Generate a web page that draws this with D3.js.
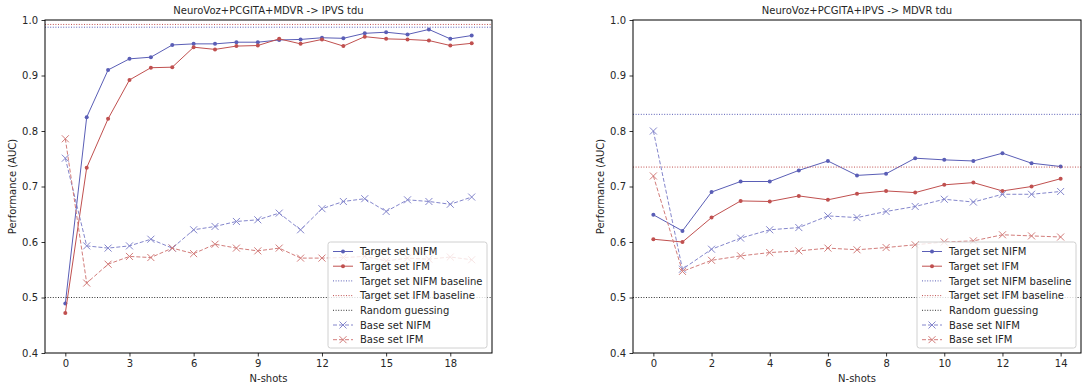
<!DOCTYPE html>
<html>
<head>
<meta charset="utf-8">
<script src="https://cdn.jsdelivr.net/npm/d3@7"></script>
<style>
  body { margin: 0; background: #fff; }
  text { font-family: "DejaVu Sans", sans-serif; fill: #262626; }
</style>
</head>
<body>
<svg id="chart" width="1083" height="389"></svg>
<script>
// shots on the x axis
var leftShots = [0,1,2,3,4,5,6,7,8,9,10,11,12,13,14,15,16,17,18,19]
var rightShots = [0,1,2,3,4,5,6,7,8,9,10,11,12,13,14]

// NeuroVoz+PCGITA+MDVR -> IPVS tdu
var leftTargetNIFM = [0.489,0.825,0.910,0.930,0.933,0.955,0.957,0.957,0.960,0.960,0.964,0.965,0.968,0.967,0.976,0.978,0.974,0.983,0.966,0.972]
var leftTargetIFM = [0.472,0.734,0.822,0.892,0.914,0.915,0.951,0.947,0.953,0.954,0.966,0.957,0.965,0.953,0.970,0.966,0.965,0.963,0.954,0.958]
var leftBaseNIFM = [0.751,0.593,0.589,0.593,0.605,0.589,0.622,0.628,0.637,0.640,0.652,0.622,0.660,0.673,0.678,0.655,0.676,0.673,0.668,0.681]
var leftBaseIFM = [0.786,0.526,0.560,0.574,0.572,0.589,0.579,0.596,0.589,0.584,0.589,0.571,0.571,0.572,0.574,0.566,0.571,0.569,0.573,0.568]
var leftBaselines = [0.987, 0.992] // NIFM, IFM

// NeuroVoz+PCGITA+IPVS -> MDVR tdu
var rightTargetNIFM = [0.649,0.620,0.690,0.709,0.709,0.729,0.746,0.720,0.723,0.751,0.748,0.746,0.760,0.742,0.736]
var rightTargetIFM = [0.605,0.600,0.644,0.674,0.673,0.683,0.676,0.687,0.692,0.689,0.703,0.707,0.692,0.700,0.714]
var rightBaseNIFM = [0.800,0.551,0.587,0.607,0.622,0.626,0.647,0.644,0.655,0.664,0.677,0.672,0.686,0.686,0.691]
var rightBaseIFM = [0.719,0.547,0.567,0.575,0.581,0.584,0.589,0.586,0.590,0.595,0.600,0.602,0.613,0.611,0.609]
var rightBaselines = [0.830, 0.735]

var randomGuess = 0.5
var yTicks = [0.4,0.5,0.6,0.7,0.8,0.9,1.0]
var leftXTicks = [0,3,6,9,12,15,18]
var rightXTicks = [0,2,4,6,8,10,12,14]
var legendLabels = ['Target set NIFM','Target set IFM','Target set NIFM baseline','Target set IFM baseline','Random guessing','Base set NIFM','Base set IFM']

var blue = '#5a5eb6', red = '#c0504f', blueL = '#8486cc', redL = '#d27c7a'

var svg = d3.select('#chart')

function panel(o) {
  var x = d3.scaleLinear().domain([-0.05 * d3.max(o.shots), 1.05 * d3.max(o.shots)]).range([o.left, o.right])
  var y = d3.scaleLinear().domain([0.4, 1.0]).range([353, 20])
  var g = svg.append('g')

  // horizontal reference lines
  function hline(v, c) {
    g.append('line').attr('x1', o.left).attr('x2', o.right)
      .attr('y1', y(v)).attr('y2', y(v))
      .attr('stroke', c).attr('stroke-width', 1).attr('stroke-dasharray', '1,1.6')
  }

  function series(vals, c, dash, marker) {
    var pts = o.shots.map(function(s, i) { return [x(s), y(vals[i])] })
    g.append('path').attr('d', d3.line()(pts)).attr('fill', 'none')
      .attr('stroke', c).attr('stroke-width', 1).attr('stroke-dasharray', dash)
    pts.forEach(function(p) {
      if (marker == 'o') {
        g.append('circle').attr('cx', p[0]).attr('cy', p[1]).attr('r', 2).attr('fill', c)
      } else {
        g.append('path').attr('d', 'M' + (p[0]-3.5) + ',' + (p[1]-3.5) + 'L' + (p[0]+3.5) + ',' + (p[1]+3.5) +
          'M' + (p[0]-3.5) + ',' + (p[1]+3.5) + 'L' + (p[0]+3.5) + ',' + (p[1]-3.5))
          .attr('stroke', c).attr('stroke-width', 1).attr('fill', 'none')
      }
    })
  }

  series(o.tn, blue, null, 'o')
  series(o.ti, red, null, 'o')
  hline(o.base[0], blue)
  hline(o.base[1], red)
  hline(randomGuess, '#333')
  series(o.bn, blueL, '4,2', 'x')
  series(o.bi, redL, '4,2', 'x')

  // axes
  var ya = g.append('g').attr('transform', 'translate(' + o.left + ',0)')
    .call(d3.axisLeft(y).tickValues(yTicks).tickFormat(d3.format('.1f')).tickSize(3.5).tickPadding(3.5))
  var xa = g.append('g').attr('transform', 'translate(0,353)')
    .call(d3.axisBottom(x).tickValues(o.xTicks).tickSize(3.5).tickPadding(3.5))
  ;[ya, xa].forEach(function(a) {
    a.select('.domain').remove()
    a.selectAll('text').attr('font-size', 10).attr('font-family', 'DejaVu Sans').attr('fill', '#262626')
    a.selectAll('line').attr('stroke', '#000').attr('stroke-width', 0.8)
  })
  g.append('rect').attr('x', o.left).attr('y', 20).attr('width', o.right - o.left).attr('height', 333)
    .attr('fill', 'none').attr('stroke', '#000').attr('stroke-width', 1)

  g.append('text').attr('x', (o.left + o.right) / 2).attr('y', 14).attr('text-anchor', 'middle')
    .attr('font-size', 10).text(o.title)
  g.append('text').attr('x', (o.left + o.right) / 2).attr('y', 382).attr('text-anchor', 'middle')
    .attr('font-size', 10).text('N-shots')
  g.append('text').attr('transform', 'translate(' + (o.left - 29) + ',186.5) rotate(-90)')
    .attr('text-anchor', 'middle').attr('font-size', 10).text('Performance (AUC)')

  // legend
  var lw = 159, lh = 106
  var lx = o.right - 5 - lw, ly = 353 - 5 - lh
  var lg = g.append('g').attr('transform', 'translate(' + lx + ',' + ly + ')')
  lg.append('rect').attr('width', lw).attr('height', lh).attr('rx', 2.5)
    .attr('fill', 'rgba(255,255,255,0.8)').attr('stroke', '#d0d0d0').attr('stroke-width', 1)
  var styles = [[blue, null, 'o'], [red, null, 'o'], [blue, '1,1.6', null], [red, '1,1.6', null],
    ['#333', '1,1.6', null], [blueL, '4,2', 'x'], [redL, '4,2', 'x']]
  legendLabels.forEach(function(l, i) {
    var cy = 9.5 + i * 14.7
    var s = styles[i]
    lg.append('line').attr('x1', 5).attr('x2', 25).attr('y1', cy).attr('y2', cy)
      .attr('stroke', s[0]).attr('stroke-width', 1).attr('stroke-dasharray', s[1])
    if (s[2] == 'o') lg.append('circle').attr('cx', 15).attr('cy', cy).attr('r', 2).attr('fill', s[0])
    if (s[2] == 'x') lg.append('path').attr('d', 'M11.5,' + (cy-3.5) + 'L18.5,' + (cy+3.5) + 'M11.5,' + (cy+3.5) + 'L18.5,' + (cy-3.5))
      .attr('stroke', s[0]).attr('fill', 'none')
    lg.append('text').attr('x', 32).attr('y', cy + 3.6).attr('font-size', 10).text(l)
  })
}

panel({left: 45, right: 492, shots: leftShots, xTicks: leftXTicks, title: 'NeuroVoz+PCGITA+MDVR -> IPVS tdu',
  tn: leftTargetNIFM, ti: leftTargetIFM, bn: leftBaseNIFM, bi: leftBaseIFM, base: leftBaselines})
panel({left: 633, right: 1081, shots: rightShots, xTicks: rightXTicks, title: 'NeuroVoz+PCGITA+IPVS -> MDVR tdu',
  tn: rightTargetNIFM, ti: rightTargetIFM, bn: rightBaseNIFM, bi: rightBaseIFM, base: rightBaselines})
</script>
</body>
</html>
